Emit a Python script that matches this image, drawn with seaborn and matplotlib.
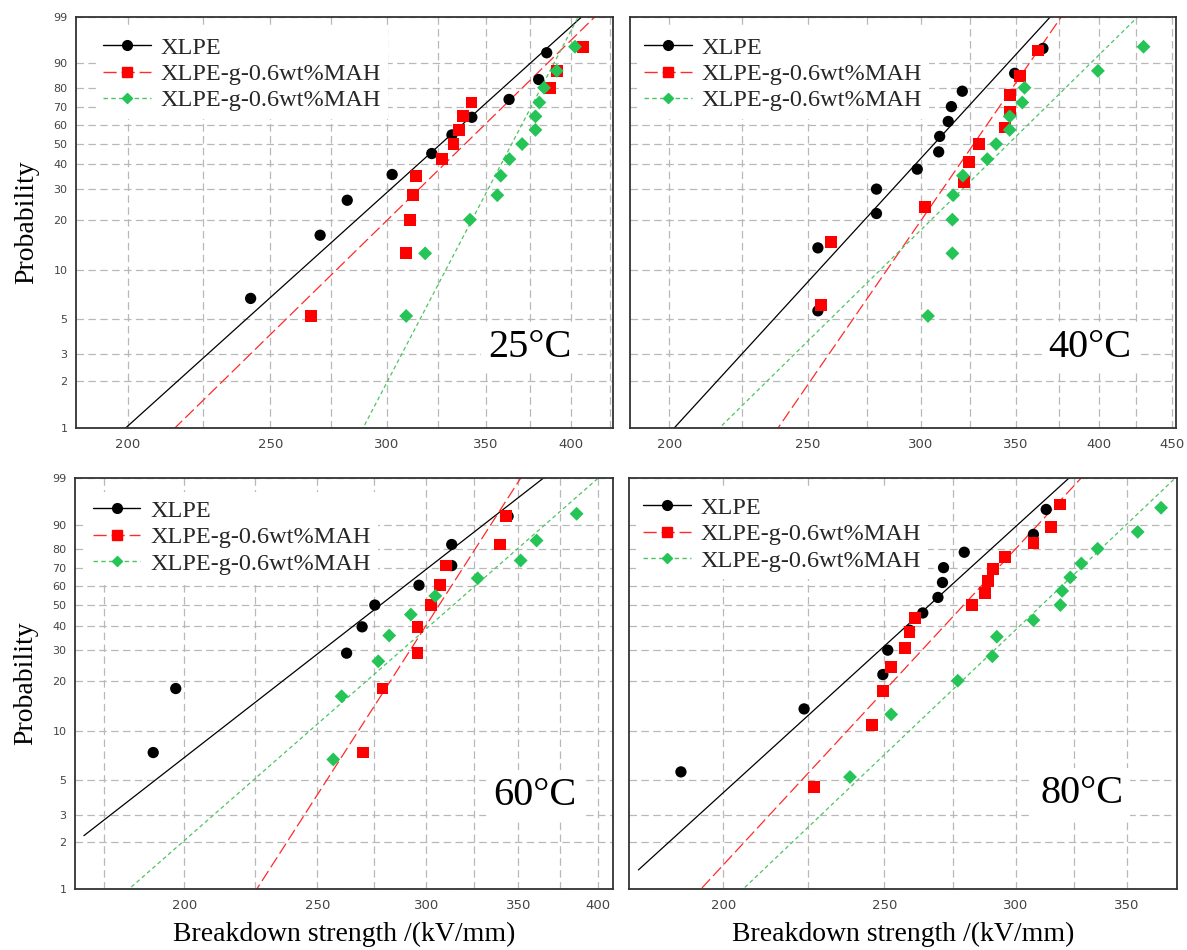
import numpy as np
import pandas as pd
import matplotlib
matplotlib.use("Agg")
import matplotlib.pyplot as plt
from matplotlib.lines import Line2D
from matplotlib.ticker import FixedLocator, FuncFormatter, NullLocator
import seaborn as sns

# ---------------------------------------------------------------- data
temperatures = ["25°C", "40°C", "60°C", "80°C"]
legend_labels = ["XLPE", "XLPE-g-0.6wt%MAH", "XLPE-g-0.6wt%MAH"]

# breakdown strength (kV/mm) and plotting probability (%)
# --- 25 °C
xlpe_25_E = [242.4, 270.2, 281.9, 302.4, 321.7, 332.0, 342.5, 363.0, 380.2, 385.0]
xlpe_25_P = [6.7, 16.3, 25.9, 35.6, 45.2, 54.8, 64.4, 74.0, 83.7, 93.3]
mah_25_E = [266.3, 309.1, 311.1, 312.3, 313.9, 326.9, 332.8, 335.8, 337.7, 342.3, 387.0, 391.1, 407.7]
mah_25_P = [5.2, 12.7, 20.1, 27.6, 35.1, 42.5, 50.0, 57.5, 64.9, 72.4, 79.9, 87.3, 94.8]
mah2_25_E = [309.1, 318.4, 341.5, 356.4, 358.3, 363.2, 370.5, 378.3, 378.3, 380.6, 383.4, 391.1, 402.4]
mah2_25_P = [5.2, 12.7, 20.1, 27.6, 35.1, 42.5, 50.0, 57.5, 64.9, 72.4, 79.9, 87.3, 94.8]

# --- 40 °C
xlpe_40_E = [254.2, 254.2, 279.4, 279.4, 298.4, 308.9, 309.4, 313.7, 315.3, 320.9, 349.2, 365.5]
xlpe_40_P = [5.6, 13.7, 21.8, 29.8, 37.9, 46.0, 54.0, 62.1, 70.2, 78.2, 86.3, 94.4]
mah_40_E = [255.6, 259.5, 302.3, 321.6, 324.3, 329.6, 343.6, 346.4, 346.4, 352.4, 362.6]
mah_40_P = [6.1, 14.9, 23.7, 32.5, 41.2, 50.0, 58.8, 67.5, 76.3, 85.1, 93.9]
mah2_40_E = [303.6, 315.8, 315.8, 316.2, 321.2, 334.1, 338.9, 346.4, 346.4, 353.5, 354.8, 399.4, 429.9]
mah2_40_P = [5.2, 12.7, 20.1, 27.6, 35.1, 42.5, 50.0, 57.5, 64.9, 72.4, 79.9, 87.3, 94.8]

# --- 60 °C
xlpe_60_E = [189.9, 197.2, 262.5, 269.4, 275.2, 296.3, 313.0, 313.0, 344.0]
xlpe_60_P = [7.4, 18.1, 28.7, 39.4, 50.0, 60.6, 71.3, 81.9, 92.6]
mah_60_E = [269.9, 278.8, 295.6, 295.6, 302.4, 306.9, 310.0, 339.3, 342.7]
mah_60_P = [7.4, 18.1, 28.7, 39.4, 50.0, 60.6, 71.3, 81.9, 92.6]
mah2_60_E = [256.7, 260.3, 276.8, 281.9, 292.3, 304.5, 326.9, 351.3, 360.8, 385.8]
mah2_60_P = [6.7, 16.3, 25.9, 35.6, 45.2, 54.8, 64.4, 74.0, 83.7, 93.3]

# --- 80 °C
xlpe_80_E = [188.6, 223.7, 249.5, 251.2, 258.9, 263.7, 269.3, 271.0, 271.4, 279.3, 307.4, 312.9]
xlpe_80_P = [5.6, 13.7, 21.8, 29.8, 37.9, 46.0, 54.0, 62.1, 70.2, 78.2, 86.3, 94.4]
mah_80_E = [226.8, 245.7, 249.5, 252.4, 257.3, 258.9, 260.9, 282.3, 287.5, 288.6, 290.6, 295.6,
            307.4, 315.1, 318.8]
mah_80_P = [4.5, 11.0, 17.5, 24.0, 30.5, 37.0, 43.5, 50.0, 56.5, 63.0, 69.5, 76.0, 82.5, 89.0, 95.5]
mah2_80_E = [238.4, 252.4, 276.8, 290.4, 292.2, 307.4, 319.1, 319.9, 323.5, 328.5, 336.0, 355.2, 366.9]
mah2_80_P = [5.2, 12.7, 20.1, 27.6, 35.1, 42.5, 50.0, 57.5, 64.9, 72.4, 79.9, 87.3, 94.8]

# Weibull fits per temperature: scale alpha (kV/mm) and shape beta, order XLPE / MAH / MAH
alpha_25 = [340.4, 352.4, 371.9]
beta_25 = [8.6, 9.34, 18.23]
alpha_40 = [317.9, 335.9, 359.9]
beta_40 = [10.1, 13.41, 9.08]
alpha_60 = [292.8, 314.7, 328.9]
beta_60 = [6.93, 13.87, 7.80]
alpha_80 = [276.3, 288.0, 322.3]
beta_80 = [9.79, 11.63, 10.23]

# axis ranges (kV/mm), start of the fitted lines, x grid values
x_ranges = [(184.5, 427.0), (187.7, 453.0), (166.6, 410.0), (175.5, 375.1)]
fit_start = [187.0, 190.3, 169.1, 177.8]
x_grid = [list(range(200, 426, 25)), list(range(200, 451, 25)),
          list(range(175, 401, 25)), list(range(200, 376, 25))]
prob_ticks = [1, 2, 3, 5, 10, 20, 30, 40, 50, 60, 70, 80, 90, 99]

panels = [
    ([xlpe_25_E, mah_25_E, mah2_25_E], [xlpe_25_P, mah_25_P, mah2_25_P], alpha_25, beta_25),
    ([xlpe_40_E, mah_40_E, mah2_40_E], [xlpe_40_P, mah_40_P, mah2_40_P], alpha_40, beta_40),
    ([xlpe_60_E, mah_60_E, mah2_60_E], [xlpe_60_P, mah_60_P, mah2_60_P], alpha_60, beta_60),
    ([xlpe_80_E, mah_80_E, mah2_80_E], [xlpe_80_P, mah_80_P, mah2_80_P], alpha_80, beta_80),
]

# ---------------------------------------------------------------- style
sns.set_theme(style="white")
plt.rcParams["font.family"] = ["DejaVu Sans"]
SERIF = ["Liberation Serif", "DejaVu Serif"]

keys = ["s0", "s1", "s2"]
point_colors = {"s0": "#000000", "s1": "#ff0000", "s2": "#25c457"}
line_colors = {"s0": "#000000", "s1": "#ff2a2a", "s2": "#4dc463"}
markers = {"s0": "o", "s1": "s", "s2": "D"}
point_sizes = {"s0": 66, "s1": 72, "s2": 50}
dash_map = {"s0": "", "s1": (9.5, 3.5), "s2": (3.2, 2.4)}
legend_ls = {"s0": "-", "s1": (0, (9.5, 3.5)), "s2": (0, (3.2, 2.4))}
legend_ms = {"s0": 7.0, "s1": 7.4, "s2": 5.2}


def weibull_fwd(p):
    p = np.clip(np.asarray(p, dtype=float), 1e-6, 100 - 1e-6)
    return np.log(-np.log(1.0 - p / 100.0))


def weibull_inv(y):
    return 100.0 * (1.0 - np.exp(-np.exp(y)))


fig = plt.figure(figsize=(11.87, 9.5), dpi=100)
rects = [
    [0.0640, 0.5495, 0.4524, 0.4326],
    [0.5307, 0.5495, 0.4600, 0.4326],
    [0.0632, 0.0642, 0.4532, 0.4326],
    [0.5299, 0.0642, 0.4617, 0.4326],
]
legend_anchor = [(0.037, 0.970), (0.013, 0.970), (0.020, 0.965), (0.013, 0.972)]
temp_pos = [(0.767, 0.173), (0.767, 0.173), (0.777, 0.204), (0.750, 0.209)]

for i, (Es, Ps, alphas, betas) in enumerate(panels):
    ax = fig.add_axes(rects[i])
    ax.set_xscale("log")
    ax.set_yscale("function", functions=(weibull_fwd, weibull_inv))

    # fitted Weibull lines
    fit_rows = []
    for k, a, b in zip(keys, alphas, betas):
        lo = max(fit_start[i], a * (-np.log(0.995)) ** (1.0 / b))
        hi = a * (-np.log(0.005)) ** (1.0 / b)
        e = np.geomspace(lo, hi, 150)
        f = 100.0 * (1.0 - np.exp(-(e / a) ** b))
        fit_rows.append(pd.DataFrame({"E": e, "P": f, "series": k}))
    fit = pd.concat(fit_rows, ignore_index=True)
    sns.lineplot(data=fit, x="E", y="P", hue="series", style="series",
                 hue_order=keys, style_order=keys, palette=line_colors,
                 dashes=dash_map, estimator=None, sort=False, lw=0.9,
                 legend=False, ax=ax, zorder=2)

    # measured points
    pts = pd.concat([pd.DataFrame({"E": E, "P": P, "series": k})
                     for k, E, P in zip(keys, Es, Ps)], ignore_index=True)
    sns.scatterplot(data=pts, x="E", y="P", hue="series", style="series", size="series",
                    hue_order=keys, style_order=keys, size_order=keys,
                    palette=point_colors, markers=markers, sizes=point_sizes,
                    linewidth=0, legend=False, ax=ax, zorder=4)

    ax.set_xlim(*x_ranges[i])
    ax.set_ylim(1, 99)

    ax.xaxis.set_major_locator(FixedLocator(x_grid[i]))
    ax.xaxis.set_major_formatter(FuncFormatter(
        lambda v, pos: f"{v:.0f}" if int(round(v)) % 50 == 0 else ""))
    ax.xaxis.set_minor_locator(NullLocator())
    ax.yaxis.set_major_locator(FixedLocator(prob_ticks))
    ax.yaxis.set_major_formatter(FuncFormatter(lambda v, pos: f"{v:g}"))
    ax.yaxis.set_minor_locator(NullLocator())

    ax.set_axisbelow(True)
    ax.grid(True, which="major", color="#b8b8b8", linestyle=(0, (6, 3.5)), linewidth=0.9)
    ax.tick_params(axis="x", length=0, pad=7, labelsize=9.5, labelcolor="#444444")
    ax.tick_params(axis="y", length=4, width=0.8, direction="out", pad=2,
                   labelsize=8, color="#555555", labelcolor="#444444")
    if i % 2 == 1:
        ax.tick_params(axis="y", labelleft=False)
    for s in ax.spines.values():
        s.set_color("#333333")
        s.set_linewidth(1.3)

    ax.set_xlabel("")
    ax.set_ylabel("")
    if i % 2 == 0:
        ax.set_ylabel("Probability", fontsize=20, fontfamily=SERIF, labelpad=10, color="black")
    if i >= 2:
        ax.set_xlabel("Breakdown strength /(kV/mm)", fontsize=20, fontfamily=SERIF,
                      labelpad=7, color="black")

    handles = [Line2D([], [], color=line_colors[k], linestyle=legend_ls[k], lw=1.0,
                      marker=markers[k], markersize=legend_ms[k],
                      markerfacecolor=point_colors[k], markeredgecolor=point_colors[k])
               for k in keys]
    ax.legend(handles, legend_labels, loc="upper left", bbox_to_anchor=legend_anchor[i],
              borderaxespad=0, frameon=True, fancybox=False, framealpha=1,
              facecolor="white", edgecolor="none", prop={"family": SERIF, "size": 17.5},
              handlelength=1.95, handletextpad=0.4, labelspacing=0.18, borderpad=0.3)

    ax.text(temp_pos[i][0], temp_pos[i][1], temperatures[i], transform=ax.transAxes,
            fontsize=29, fontfamily=SERIF, ha="left", va="baseline", color="black",
            bbox=dict(facecolor="white", edgecolor="none", pad=5), zorder=1.5)

fig.savefig("out.png", dpi=100)
